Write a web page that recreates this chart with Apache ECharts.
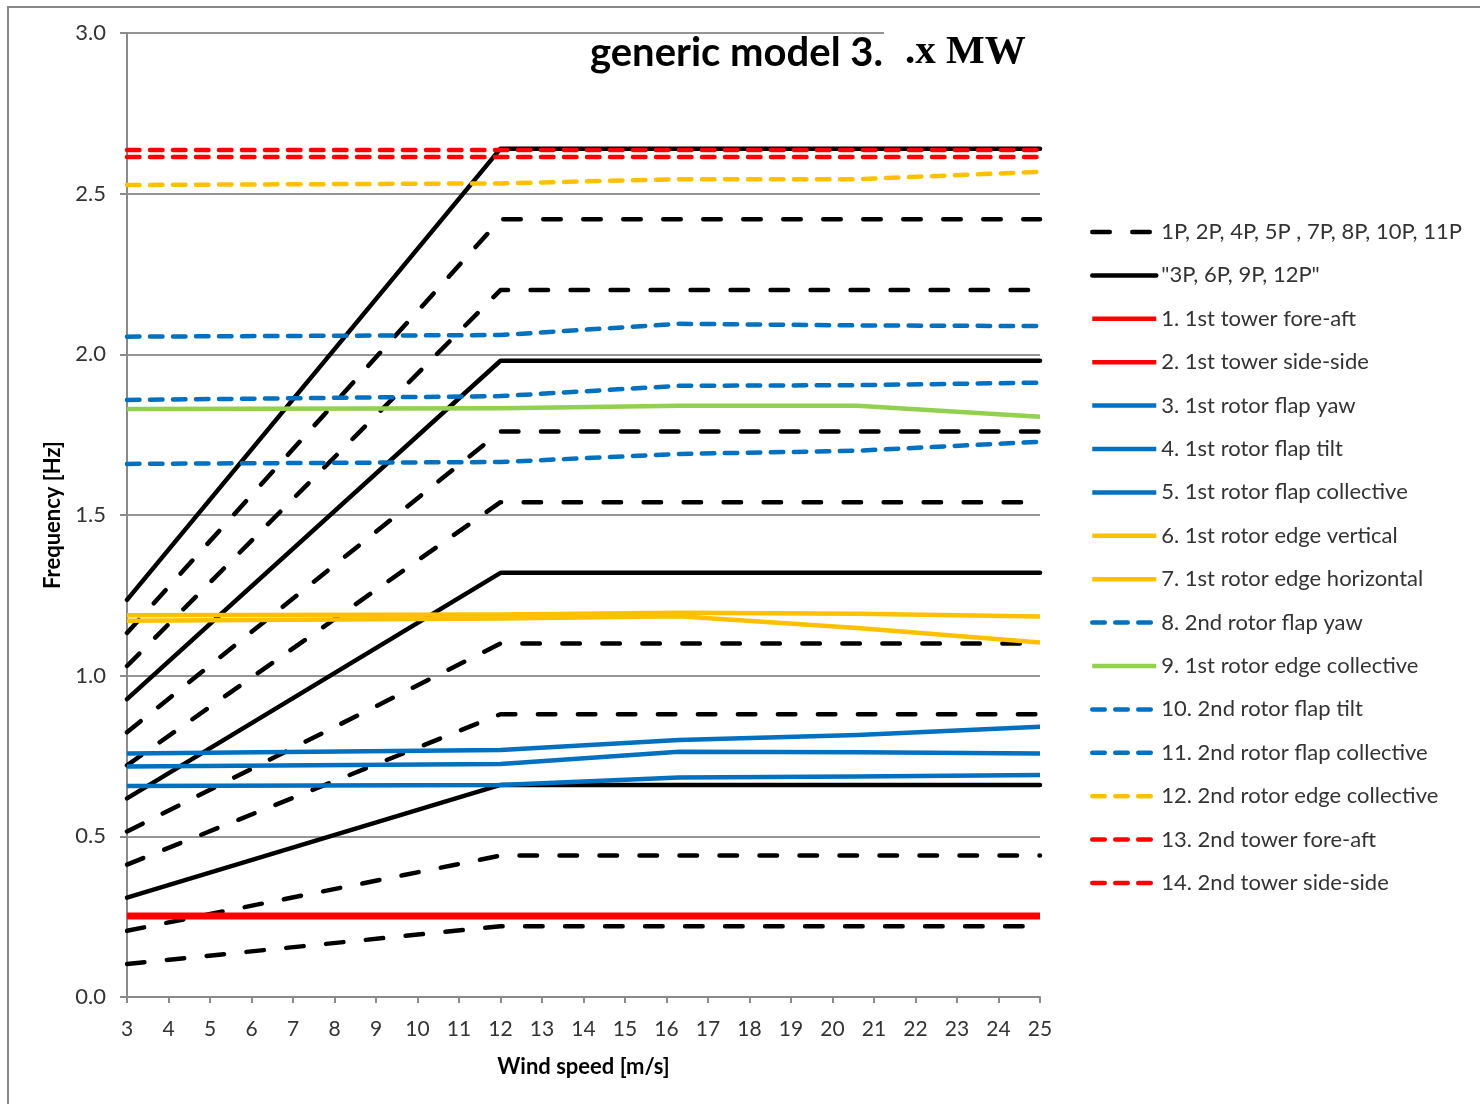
<!DOCTYPE html>
<html>
<head>
<meta charset="utf-8">
<script src="https://cdn.jsdelivr.net/npm/echarts@6/dist/echarts.min.js"></script>
<style>
html,body{margin:0;padding:0;background:#fff;}
#chart{width:1480px;height:1104px;}
</style>
</head>
<body>
<div id="chart"></div>
<script>
// ---- Data ----
const harmonicWind = [3, 12, 25];
const harmonicNames = ['1P','2P','3P','4P','5P','6P','7P','8P','9P','10P','11P','12P'];
const h1P  = [0.103, 0.22, 0.22];
const h2P  = [0.206, 0.44, 0.44];
const h3P  = [0.309, 0.66, 0.66];
const h4P  = [0.412, 0.88, 0.88];
const h5P  = [0.515, 1.10, 1.10];
const h6P  = [0.618, 1.32, 1.32];
const h7P  = [0.721, 1.54, 1.54];
const h8P  = [0.824, 1.76, 1.76];
const h9P  = [0.927, 1.98, 1.98];
const h10P = [1.030, 2.20, 2.20];
const h11P = [1.133, 2.42, 2.42];
const h12P = [1.236, 2.64, 2.64];

const modeWind = [3, 12, 16.3, 20.6, 25];
const m1  = [0.256, 0.256, 0.256, 0.256, 0.256];
const m2  = [0.248, 0.248, 0.248, 0.248, 0.248];
const m3  = [0.758, 0.769, 0.800, 0.815, 0.841];
const m4  = [0.717, 0.725, 0.763, 0.762, 0.758];
const m5  = [0.657, 0.660, 0.683, 0.686, 0.691];
const m6  = [1.188, 1.190, 1.196, 1.193, 1.184];
const m7  = [1.171, 1.178, 1.185, 1.148, 1.103];
const m8  = [2.055, 2.060, 2.095, 2.090, 2.088];
const m9  = [1.830, 1.832, 1.840, 1.840, 1.806];
const m10 = [1.858, 1.870, 1.902, 1.904, 1.912];
const m11 = [1.659, 1.665, 1.690, 1.700, 1.728];
const m12 = [2.527, 2.532, 2.545, 2.545, 2.568];
const m13 = [2.636, 2.636, 2.636, 2.636, 2.636];
const m14 = [2.614, 2.614, 2.614, 2.614, 2.614];

const dashedGroupName = '1P, 2P, 4P, 5P , 7P, 8P, 10P, 11P';
const solidGroupName = '"3P, 6P, 9P, 12P"';
const modeNames = [
  '1. 1st tower fore-aft', '2. 1st tower side-side', '3. 1st rotor flap yaw',
  '4. 1st rotor flap tilt', '5. 1st rotor flap collective', '6. 1st rotor edge vertical',
  '7. 1st rotor edge horizontal', '8. 2nd rotor flap yaw', '9. 1st rotor edge collective',
  '10. 2nd rotor flap tilt', '11. 2nd rotor flap collective', '12. 2nd rotor edge collective',
  '13. 2nd tower fore-aft', '14. 2nd tower side-side'
];
const xTicks = [3,4,5,6,7,8,9,10,11,12,13,14,15,16,17,18,19,20,21,22,23,24,25];
const yTicks = [0.0, 0.5, 1.0, 1.5, 2.0, 2.5, 3.0];

// ---- Styles ----
const RED = '#FF0000', BLUE = '#0070C0', YEL = '#FFC000', GRN = '#92D050', BLK = '#000000';
const LW = 4.5;
const blackDash = [17.5, 22.5];
const colorDash = [12.5, 10.5];
const NOFILL = 'rgba(0,0,0,0)';

const harmonicData = [h1P,h2P,h3P,h4P,h5P,h6P,h7P,h8P,h9P,h10P,h11P,h12P];
const modeData = [m1,m2,m3,m4,m5,m6,m7,m8,m9,m10,m11,m12,m13,m14];
const modeStyles = [
  [RED,'solid'],[RED,'solid'],[BLUE,'solid'],[BLUE,'solid'],[BLUE,'solid'],
  [YEL,'solid'],[YEL,'solid'],[BLUE,'dash'],[GRN,'solid'],[BLUE,'dash'],
  [BLUE,'dash'],[YEL,'dash'],[RED,'dash'],[RED,'dash']
];

function pairs(xs, ys){ return xs.map((x,i)=>[x, ys[i]]); }

const series = [];
harmonicData.forEach((vals, i) => {
  const n = i + 1;
  const solid = (n % 3 === 0);
  series.push({
    type: 'line',
    name: solid ? solidGroupName : dashedGroupName,
    data: pairs(harmonicWind, vals),
    symbol: 'none',
    silent: true,
    lineStyle: { color: BLK, width: LW, type: solid ? 'solid' : blackDash, cap: 'round', join: 'round' },
    itemStyle: { color: NOFILL, borderColor: NOFILL, borderWidth: 0 },
    z: 2
  });
});
modeData.forEach((vals, i) => {
  const [c, t] = modeStyles[i];
  series.push({
    type: 'line',
    name: modeNames[i],
    data: pairs(modeWind, vals),
    symbol: 'none',
    silent: true,
    lineStyle: { color: c, width: LW, type: t === 'dash' ? colorDash : 'solid', cap: t === 'dash' ? 'round' : 'butt', join: 'round' },
    itemStyle: { color: NOFILL, borderColor: NOFILL, borderWidth: 0 },
    z: 3
  });
});

const FONT = 'Lato';
const chart = echarts.init(document.getElementById('chart'));
chart.setOption({
  animation: false,
  backgroundColor: '#ffffff',
  grid: { left: 127, right: 440, top: 33, bottom: 107, containLabel: false },
  xAxis: {
    type: 'value', min: xTicks[0], max: xTicks[xTicks.length-1], interval: 1,
    name: 'Wind speed [m/s]', nameLocation: 'middle', nameGap: 59,
    nameTextStyle: { fontFamily: FONT, fontWeight: 'bold', fontSize: 22, color: '#000' },
    axisLine: { show: true, lineStyle: { color: '#8a8a8a', width: 2 } },
    axisTick: { show: true, length: 6, lineStyle: { color: '#8a8a8a', width: 2 } },
    axisLabel: { fontFamily: FONT, fontSize: 21, color: '#333', margin: 22 },
    splitLine: { show: false }
  },
  yAxis: {
    type: 'value', min: yTicks[0], max: yTicks[yTicks.length-1], interval: 0.5,
    name: 'Frequency [Hz]', nameLocation: 'middle', nameGap: 60,
    nameTextStyle: { fontFamily: FONT, fontWeight: 'bold', fontSize: 22, color: '#000' },
    axisLine: { show: true, lineStyle: { color: '#8a8a8a', width: 2 } },
    axisTick: { show: true, length: 7, lineStyle: { color: '#8a8a8a', width: 2 } },
    axisLabel: { fontFamily: FONT, fontSize: 22, color: '#333', margin: 21, formatter: v => v.toFixed(1) },
    splitLine: { show: true, lineStyle: { color: '#959595', width: 2 } }
  },
  legend: {
    orient: 'vertical', left: 1085, top: 216,
    itemWidth: 64, itemHeight: 14, itemGap: 21.4,
    data: [dashedGroupName, solidGroupName].concat(modeNames),
    itemStyle: { color: NOFILL, borderColor: NOFILL, borderWidth: 0, opacity: 0 },
    lineStyle: { width: LW },
    textStyle: { fontFamily: FONT, fontSize: 22, color: '#333' },
    selectedMode: false
  },
  graphic: [
    { type: 'rect', z: 100, shape: { x: 8, y: 7, width: 1490, height: 1110 }, style: { fill: 'none', stroke: '#888', lineWidth: 2 } },
    { type: 'rect', z: 100, shape: { x: 884, y: 28, width: 160, height: 10 }, style: { fill: '#fff' } },
    { type: 'text', z: 101, left: 590, top: 33, style: { text: 'generic model 3.', font: 'bold 40px Lato', fill: '#000' } },
    { type: 'text', z: 101, left: 905, top: 32, style: { text: '.x MW', font: 'bold 41px "Liberation Serif"', fill: '#000' } }
  ],
  series: series
});
</script>
</body>
</html>
